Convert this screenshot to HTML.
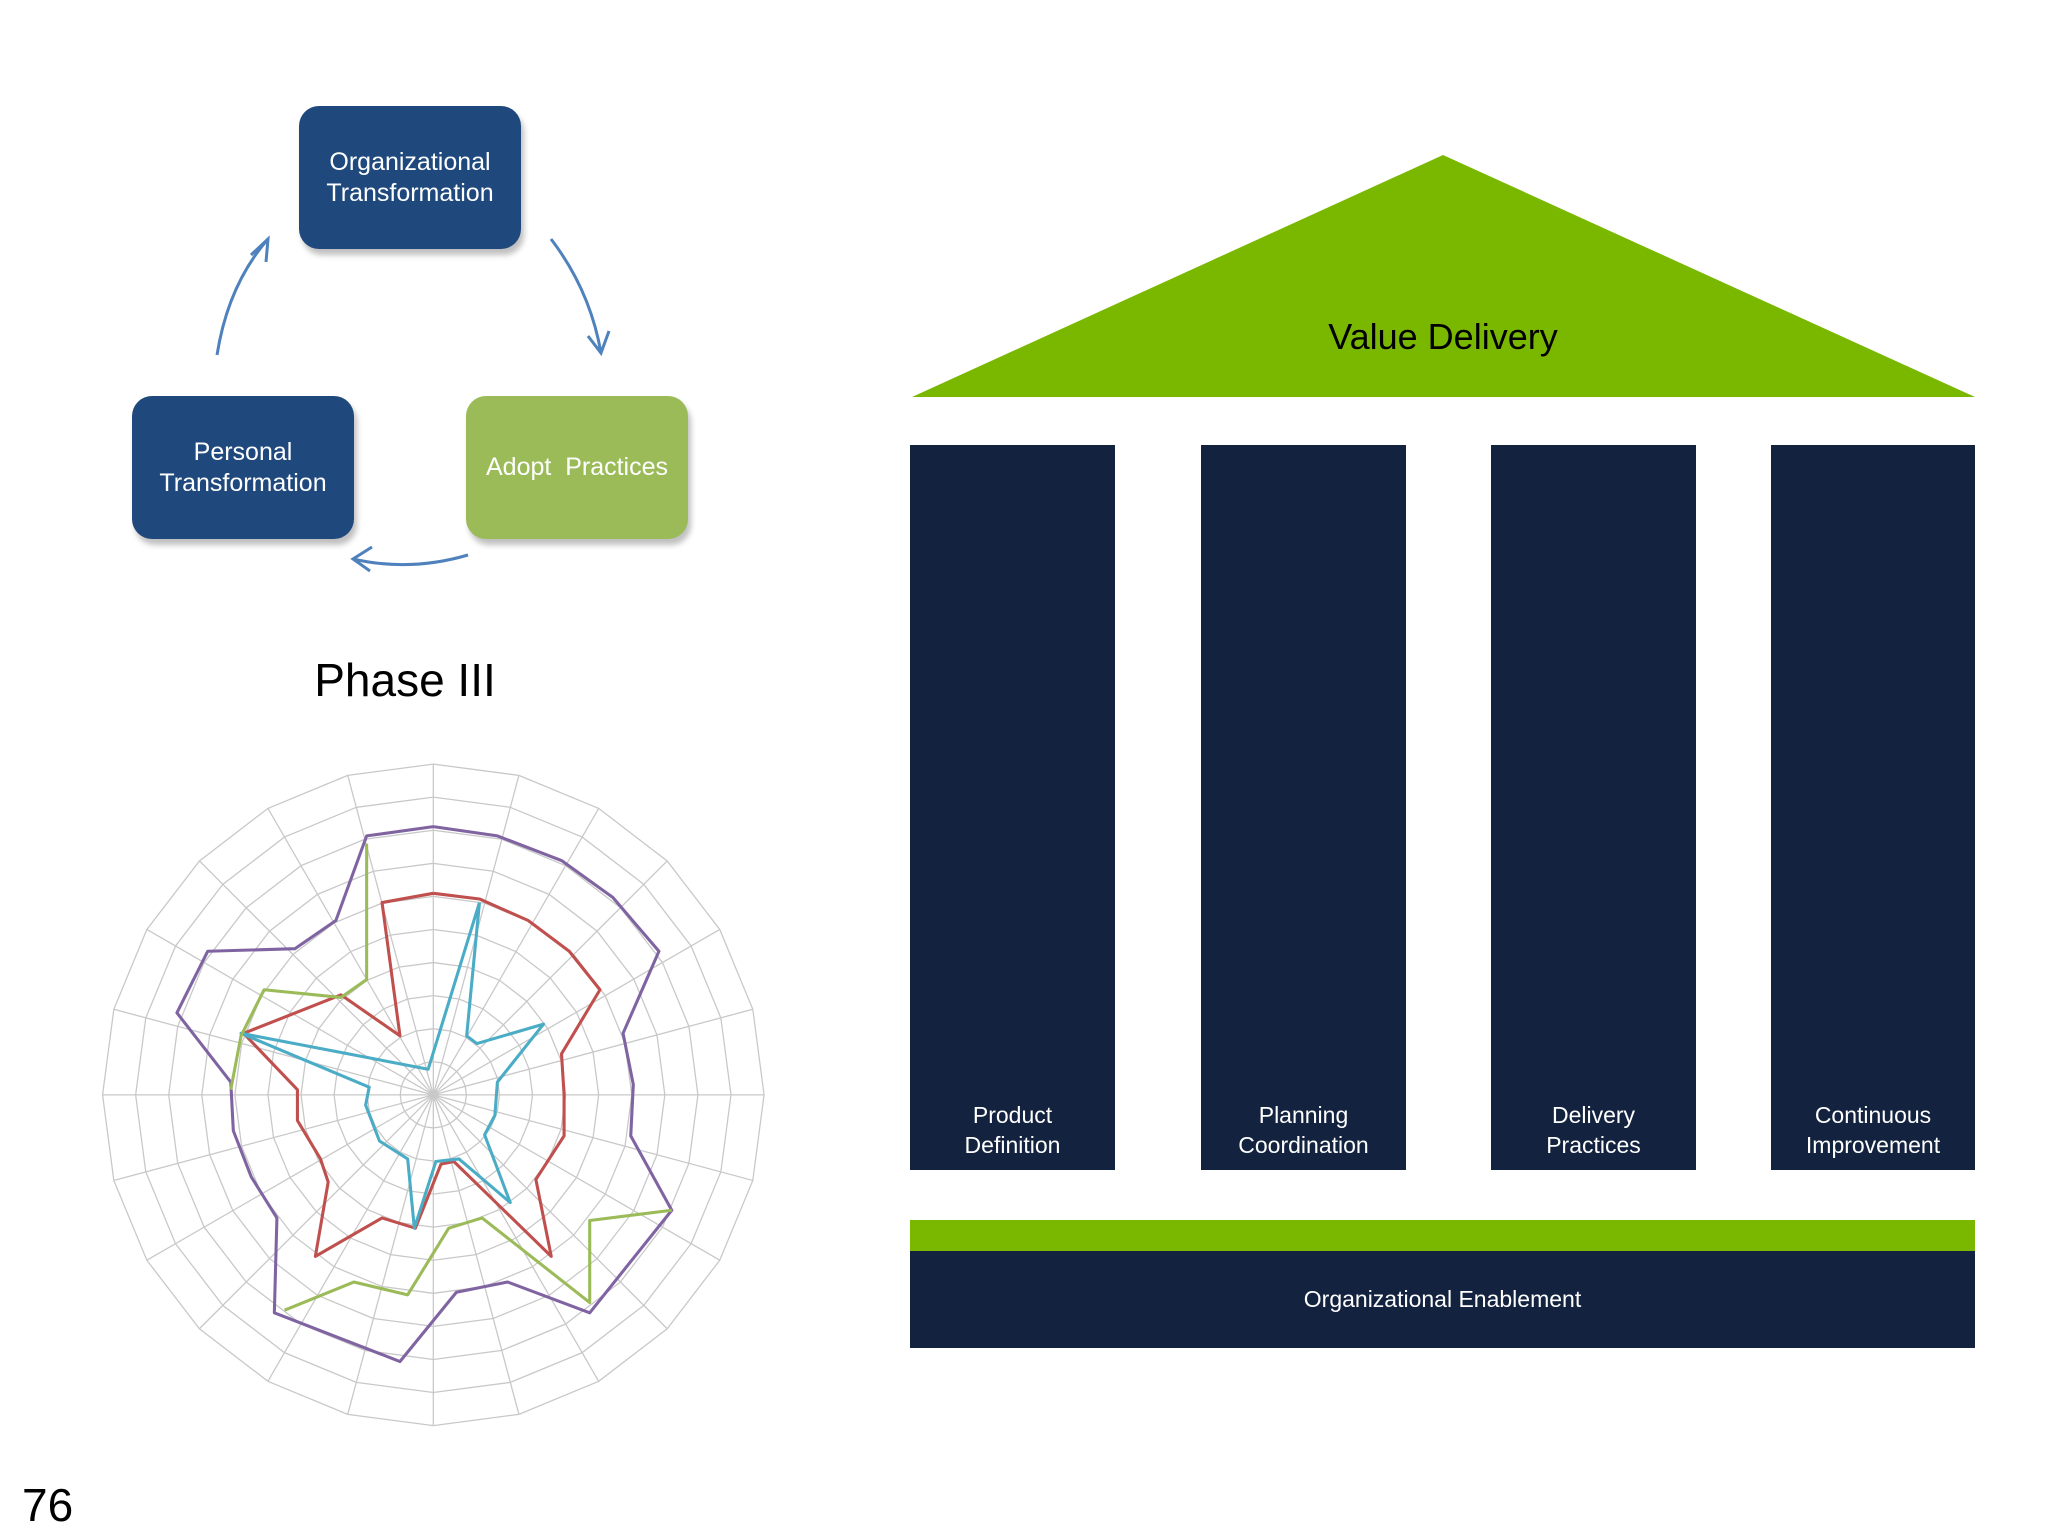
<!DOCTYPE html>
<html><head><meta charset="utf-8"><style>
html,body{margin:0;padding:0;background:#fff;}
body{width:2048px;height:1536px;position:relative;overflow:hidden;font-family:"Liberation Sans","DejaVu Sans",sans-serif;}
.box{position:absolute;border-radius:20px;color:#fff;display:flex;align-items:center;justify-content:center;text-align:center;font-size:25px;line-height:31px;box-shadow:3px 6px 6px rgba(0,0,0,0.25);}
.navy{background:#1f497d;}
.green{background:#9bbb59;}
.pillar{position:absolute;top:445px;height:725px;width:205px;background:#13233f;color:#fff;font-size:23px;line-height:30px;text-align:center;}
.pillar span{position:absolute;left:0;right:0;bottom:10px;}
</style></head><body>
<div class="box navy" style="left:299px;top:106px;width:222px;height:143px;">Organizational<br>Transformation</div>
<div class="box navy" style="left:132px;top:396px;width:222px;height:143px;">Personal<br>Transformation</div>
<div class="box green" style="left:466px;top:396px;width:222px;height:143px;">Adopt&nbsp; Practices</div>
<svg style="position:absolute;left:0;top:0" width="2048" height="1536">
<g fill="none" stroke="#4f81bd" stroke-width="3">
<path d="M217 355 Q228 285 268 239"/><path d="M251 255 L268 239 L266 262"/>
<path d="M551 239 Q590 290 601 353"/><path d="M588 336 L601 353 L609 331"/>
<path d="M468 555 Q410 572 353 559"/><path d="M372 547 L353 559 L370 571"/>
</g>
<polygon points="1443,155 1975,397 912,397" fill="#7ab800"/>
<text x="1443" y="349" font-size="36" text-anchor="middle" fill="#000" font-family="Liberation Sans, sans-serif">Value Delivery</text>
<text x="405" y="696" font-size="46" text-anchor="middle" fill="#000" font-family="Liberation Sans, sans-serif">Phase III</text>
<g transform="translate(0,700) scale(0.5128)">
<g id="grid" stroke="#c8c8c8" stroke-width="2.5" fill="none"></g>
<g fill="none" stroke-width="6" stroke-linejoin="round">
<polyline stroke="#8064a2" points="845,247 970,265 1095,313 1195,385 1285,490 1215,650 1235,750 1230,850 1310,995 1150,1195 990,1135 890,1155 780,1290 535,1195 540,1010 490,930 455,840 450,745 345,610 405,490 575,485 655,430 715,265 845,247"/>
<polyline stroke="#c0504d" points="845,377 935,388 1030,430 1110,490 1170,565 1095,690 1100,770 1100,850 1045,935 1075,1085 885,900 860,905 810,1030 745,1010 615,1085 640,940 625,895 580,820 580,760 475,650 665,575 780,655 745,395 845,377"/>
<polyline stroke="#4bacc6" points="935,395 910,655 930,670 1060,632 970,745 965,810 945,848 995,980 895,895 850,900 808,1030 795,895 740,860 713,790 720,755 470,650 835,720 935,395"/>
<polyline stroke="#9bbb59" points="715,280 715,545 665,580 515,565 470,655 450,760"/>
<polyline stroke="#9bbb59" points="555,1190 690,1135 795,1160 875,1030 940,1010 1150,1175 1150,1015 1310,995"/>
</g>
</g>
</svg>
<script>
(function(){var g=document.getElementById('grid'),cx=845,cy=770,h='';
for(var r=1;r<=10;r++){var R=r*64.5,p=[];for(var i=0;i<24;i++){var a=i*Math.PI/12;p.push((cx+R*Math.sin(a)).toFixed(1)+','+(cy-R*Math.cos(a)).toFixed(1));}h+='<polygon points="'+p.join(' ')+'"/>';}
for(var i=0;i<24;i++){var a=i*Math.PI/12;h+='<line x1="'+cx+'" y1="'+cy+'" x2="'+(cx+645*Math.sin(a)).toFixed(1)+'" y2="'+(cy-645*Math.cos(a)).toFixed(1)+'"/>';}
g.innerHTML=h;})();
</script>
<div class="pillar" style="left:910px;"><span>Product<br>Definition</span></div>
<div class="pillar" style="left:1201px;"><span>Planning<br>Coordination</span></div>
<div class="pillar" style="left:1491px;"><span>Delivery<br>Practices</span></div>
<div class="pillar" style="left:1771px;width:204px;"><span>Continuous<br>Improvement</span></div>
<div style="position:absolute;left:910px;top:1220px;width:1065px;height:31px;background:#7ab800;"></div>
<div style="position:absolute;left:910px;top:1251px;width:1065px;height:97px;background:#13233f;color:#fff;font-size:23px;display:flex;align-items:center;justify-content:center;">Organizational Enablement</div>
<div style="position:absolute;left:22px;top:1478px;font-size:46px;color:#000;">76</div>
</body></html>
